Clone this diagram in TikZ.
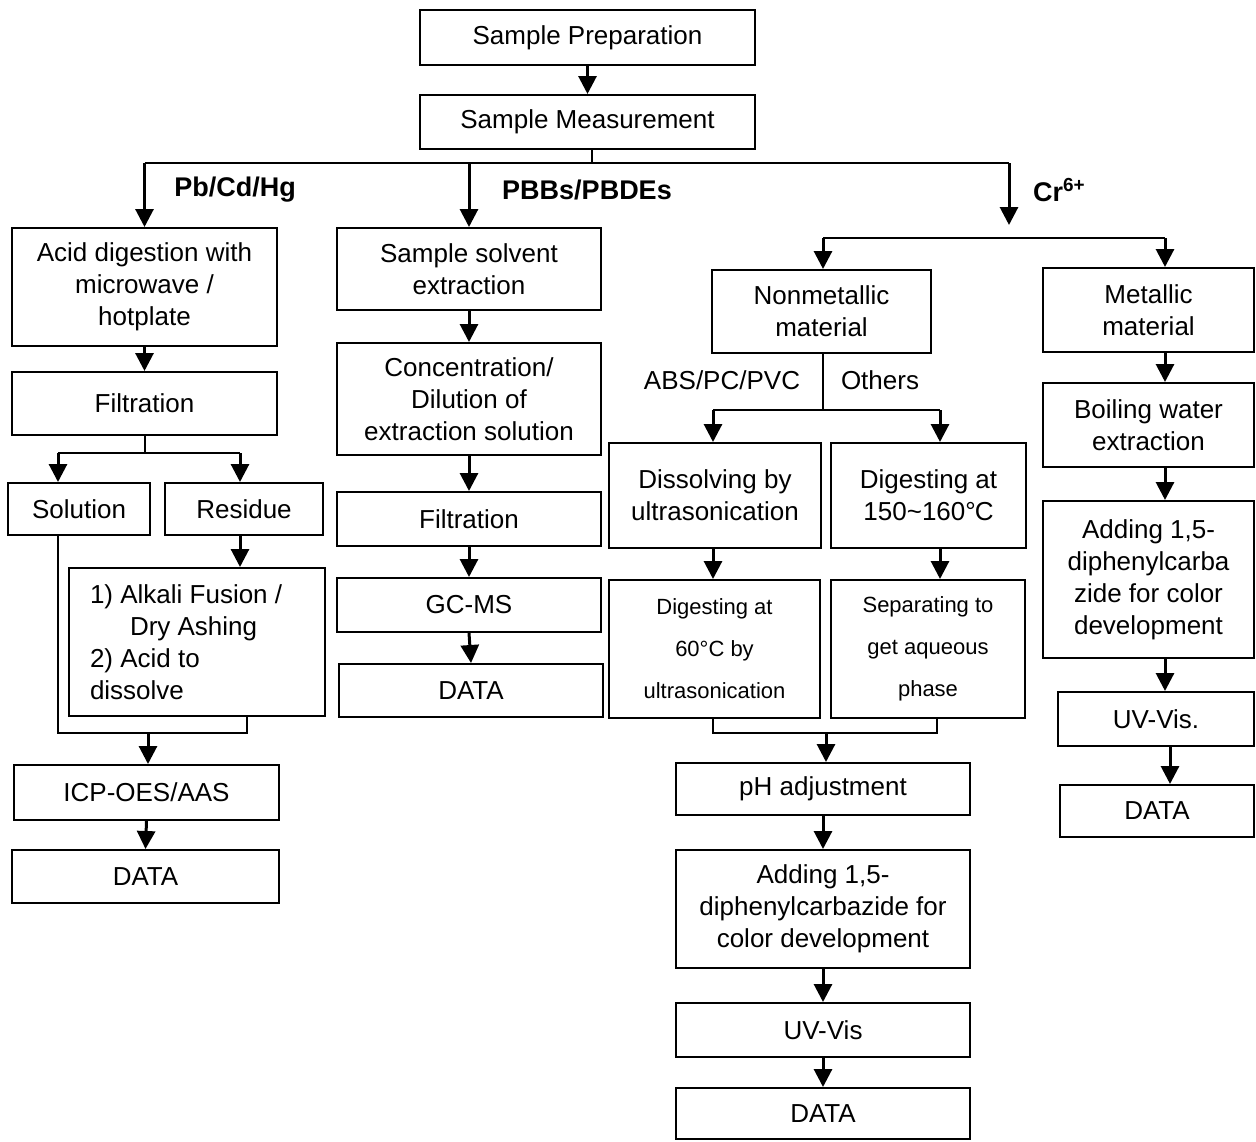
\documentclass[tikz,border=0pt]{standalone}
\usepackage{fontspec}
\setmainfont{Liberation Sans}
\usepackage{tikz}
\usetikzlibrary{arrows.meta,positioning}

\tikzset{
  box/.style={draw, line width=1pt, align=center, inner sep=0pt},
  arr/.style={-{Triangle[length=9pt,width=9pt]}, line width=1.5pt},
  link/.style={line width=1pt},
  lbl/.style={font=\fontsize{13.5}{16}\selectfont\bfseries}
}

\begin{document}
\begin{tikzpicture}[x=0.5pt, y=-0.5pt, font=\fontsize{13}{16}\selectfont]
\useasboundingbox (0,0) rectangle (1256,1141);

% Top of the chart
\node[box, minimum width=167.5pt, minimum height=27.5pt] (prep) at (587.5,37.5) {Sample Preparation};
\node[box, minimum width=167.5pt, minimum height=27pt] (meas) at (587.5,122) {Sample Measurement};
\draw[arr] (prep.south) -- (meas.north);

% Pb/Cd/Hg branch
\node[box, minimum width=132.5pt, minimum height=59pt] (acid) at (144.5,287) {Acid digestion with\\microwave /\\hotplate};
\node[box, minimum width=132.5pt, minimum height=31.5pt] (filtA) at (144.5,403.5) {Filtration};
\node[box, minimum width=71pt, minimum height=26pt] (sol) at (79,509) {Solution};
\node[box, minimum width=79pt, minimum height=26pt] (res) at (244,509) {Residue};
\node[box, minimum width=128pt, minimum height=74pt, text width=107pt, align=flush left] (alk) at (197,642)
  {1) Alkali Fusion /\\\hspace*{20pt}Dry Ashing\\2) Acid to\\dissolve};
\node[box, minimum width=132.5pt, minimum height=27.5pt] (icp) at (146.5,792.5) {ICP-OES/AAS};
\node[box, minimum width=133.5pt, minimum height=26.5pt] (dataA) at (145.5,876.5) {DATA};

% PBBs/PBDEs branch
\node[box, minimum width=132pt, minimum height=41pt] (solv) at (469,269) {Sample solvent\\extraction};
\node[box, minimum width=132pt, minimum height=56pt] (conc) at (469,399) {Concentration/\\Dilution of\\extraction solution};
\node[box, minimum width=132pt, minimum height=27pt] (filtB) at (469,519) {Filtration};
\node[box, minimum width=132pt, minimum height=27pt] (gcms) at (469,605) {GC-MS};
\node[box, minimum width=132pt, minimum height=26.5pt] (dataB) at (471,690.5) {DATA};

% Cr6+ branch, nonmetallic
\node[box, minimum width=109.5pt, minimum height=41.5pt] (nonmet) at (821.5,311.5) {Nonmetallic\\material};
\node[box, minimum width=106pt, minimum height=52.5pt] (diss) at (715,495.5) {Dissolving by\\ultrasonication};
\node[box, minimum width=97.5pt, minimum height=52.5pt] (dig150) at (928.5,495.5) {Digesting at\\150\textasciitilde160\textdegree\kern-0.5pt C};
\node[box, minimum width=105.5pt, minimum height=69pt, font=\fontsize{11}{21}\selectfont] (dig60) at (714.5,649) {Digesting at\\60\textdegree C by\\ultrasonication};
\node[box, minimum width=97pt, minimum height=69pt, font=\fontsize{11}{21}\selectfont] (sep) at (928,649) {Separating to\\get aqueous\\phase};
\node[box, minimum width=147pt, minimum height=26pt] (ph) at (823,789) {pH adjustment};
\node[box, minimum width=147pt, minimum height=59pt] (add) at (823,909) {Adding 1,5-\\diphenylcarbazide for\\color development};
\node[box, minimum width=147pt, minimum height=27pt] (uv) at (823,1030) {UV-Vis};
\node[box, minimum width=147pt, minimum height=25.5pt] (dataC) at (823,1113.5) {DATA};

% Cr6+ branch, metallic
\node[box, minimum width=105.5pt, minimum height=42pt] (met) at (1148.5,310) {Metallic\\material};
\node[box, minimum width=105.5pt, minimum height=42pt] (boil) at (1148.5,425) {Boiling water\\extraction};
\node[box, minimum width=105.5pt, minimum height=78.5pt] (addM) at (1148.5,579.5) {Adding 1,5-\\diphenylcarba\\zide for color\\development};
\node[box, minimum width=98pt, minimum height=27pt] (uvM) at (1156,719) {UV-Vis.};
\node[box, minimum width=97pt, minimum height=26pt] (dataM) at (1157,811) {DATA};

% Branch labels
\node[lbl] (lPb) at (235,190) {Pb/Cd/Hg};
\node[lbl] (lPBB) at (587,190) {PBBs/PBDEs};
\node[lbl, anchor=west] (lCr) at (1026,190) {Cr\textsuperscript{6+}};
\node (lABS) at (722,380) {ABS/PC/PVC};
\node (lOth) at (880,380) {Others};

% Split below Sample Measurement
\coordinate (split) at (592,163);
\coordinate (crEnd) at (1009,225);
\draw[link] (meas.south -| split) -- (split);
\draw[link] (acid.north |- split) -- (crEnd |- split);
\draw[arr] (acid.north |- split) -- (acid.north);
\draw[arr] (solv.north |- split) -- (solv.north);
\draw[arr] (crEnd |- split) -- (crEnd);

% Pb/Cd/Hg flow
\coordinate (fsL) at (58,453);
\coordinate (fsR) at (240,453);
\coordinate (jA) at (58,733);
\coordinate (jB) at (247,733);
\coordinate (jM) at (148,733);
\draw[arr] (acid.south) -- (filtA.north);
\draw[link] (filtA.south) -- (filtA.south |- fsL);
\draw[link] (fsL) -- (fsR);
\draw[arr] (fsL) -- (fsL |- sol.north);
\draw[arr] (fsR) -- (fsR |- res.north);
\draw[arr] (fsR |- res.south) -- (fsR |- alk.north);
\draw[link] (fsL |- sol.south) -- (jA) -- (jB) -- (jB |- alk.south);
\draw[arr] (jM) -- (jM |- icp.north);
\draw[arr] (icp.south) -- (dataA.north);

% PBBs/PBDEs flow
\draw[arr] (solv.south) -- (conc.north);
\draw[arr] (conc.south) -- (filtB.north);
\draw[arr] (filtB.south) -- (gcms.north);
\draw[arr] (gcms.south) -- (dataB.north);

% Cr6+ flow
\coordinate (crL) at (823,238);
\coordinate (crR) at (1165,238);
\draw[link] (crL) -- (crR);
\draw[arr] (crL) -- (crL |- nonmet.north);
\draw[arr] (crR) -- (crR |- met.north);

\coordinate (nsL) at (713,410);
\coordinate (nsR) at (940,410);
\draw[link] (nonmet.south -| crL) -- (crL |- nsL);
\draw[link] (nsL) -- (nsR);
\draw[arr] (nsL) -- (nsL |- diss.north);
\draw[arr] (nsR) -- (nsR |- dig150.north);
\draw[arr] (nsL |- diss.south) -- (nsL |- dig60.north);
\draw[arr] (nsR |- dig150.south) -- (nsR |- sep.north);

\coordinate (jC) at (826,733);
\draw[link] (nsL |- dig60.south) -- (nsL |- jC) -- (937,733) -- (937,718);
\draw[arr] (jC) -- (jC |- ph.north);
\draw[arr] (ph.south) -- (add.north);
\draw[arr] (add.south) -- (uv.north);
\draw[arr] (uv.south) -- (dataC.north);

\coordinate (mx) at (1165,0);
\coordinate (mx2) at (1170,0);
\draw[arr] (mx |- met.south) -- (mx |- boil.north);
\draw[arr] (mx |- boil.south) -- (mx |- addM.north);
\draw[arr] (mx |- addM.south) -- (mx |- uvM.north);
\draw[arr] (mx2 |- uvM.south) -- (mx2 |- dataM.north);
\end{tikzpicture}
\end{document}
